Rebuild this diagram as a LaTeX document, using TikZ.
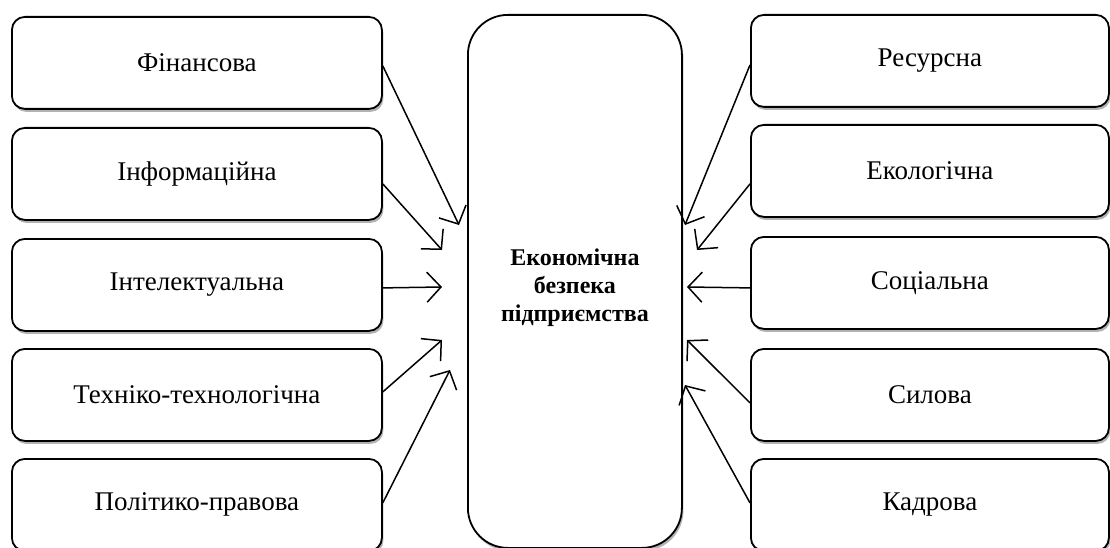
\documentclass[tikz,border=0pt]{standalone}
\usepackage{fontspec}
\setmainfont{Liberation Serif}
\usetikzlibrary{arrows.meta,shadows,calc}
\begin{document}
\begin{tikzpicture}[x=1pt,y=-1pt,
  box/.style={draw=black, line width=1.8pt, rounded corners=13pt, fill=white,
    minimum width=370pt, minimum height=92pt, anchor=north west, inner sep=0pt,
    font=\fontsize{27}{32}\selectfont,
    drop shadow={shadow xshift=1.5pt, shadow yshift=-3pt, fill=black!55, opacity=0.55}},
  rbox/.style={box, minimum width=358pt},
  arr/.style={line width=1.5pt, -{Straight Barb[length=14pt,width=30pt,line width=1.5pt]}}]
\useasboundingbox (0,0) rectangle (1110,548);
% left column
\node[box] (L1) at (11,16) {Фінансова};
\node[box] (L2) at (11,127) {Інформаційна};
\node[box] (L3) at (11,238) {Інтелектуальна};
\node[box] (L4) at (11,348) {Техніко-технологічна};
\node[box] (L5) at (11,458) {Політико-правова};
% right column
\node[rbox] (R1) at (750,14) {Ресурсна};
\node[rbox] (R2) at (750,124) {Екологічна};
\node[rbox] (R3) at (750,236) {Соціальна};
\node[rbox] (R4) at (750,348) {Силова};
\node[rbox] (R5) at (750,458) {Кадрова};
% centre
\node[box, minimum width=214pt, minimum height=533pt, rounded corners=40pt,
  font=\bfseries\fontsize{24}{28}\selectfont] (C) at (467,14)
  {\raisebox{-13pt}[0pt][0pt]{\begin{tabular}{@{}c@{}}Економічна\\безпека\\підприємства\end{tabular}}};
% arrow targets
\coordinate (a1) at (459,225);
\coordinate (a2) at (442,250);
\coordinate (a3) at (442,287);
\coordinate (a4) at (442,340);
\coordinate (a5) at (450,370);
\coordinate (b1) at (685,225);
\coordinate (b2) at (697,250);
\coordinate (b3) at (687,287);
\coordinate (b4) at (687,340);
\coordinate (b5) at (685,385);
\draw[arr] ($(L1.east)+(0,3)$) -- (a1);
\draw[arr] ($(L2.east)+(0,10)$) -- (a2);
\draw[arr] ($(L3.east)+(0,3)$) -- (a3);
\draw[arr] ($(L4.east)+(0,-3)$) -- (a4);
\draw[arr] ($(L5.east)+(0,-2)$) -- (a5);
\draw[arr] ($(R1.west)+(0,4)$) -- (b1);
\draw[arr] ($(R2.west)+(0,13)$) -- (b2);
\draw[arr] ($(R3.west)+(0,5)$) -- (b3);
\draw[arr] ($(R4.west)+(0,8)$) -- (b4);
\draw[arr] ($(R5.west)+(0,-2)$) -- (b5);
\end{tikzpicture}
\end{document}
